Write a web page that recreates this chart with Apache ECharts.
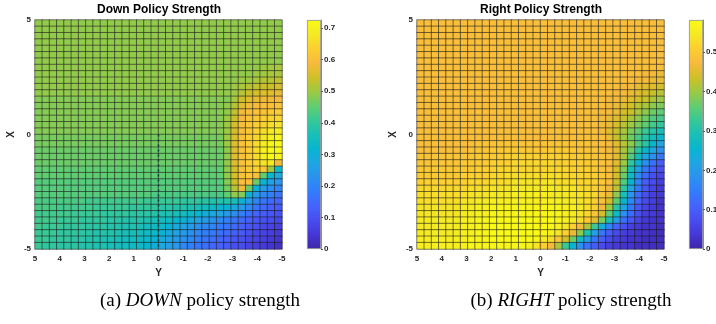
<!DOCTYPE html>
<html>
<head>
<meta charset="utf-8">
<script src="https://cdn.jsdelivr.net/npm/echarts@6/dist/echarts.min.js"></script>
<style>
  html, body { margin: 0; padding: 0; background: #fff; }
  #chart { width: 716px; height: 324px; }
</style>
</head>
<body>
<div id="chart"></div>
<script>
// policy strength in hundredths; first row is X = 5 (top), first column is Y = 5 (left)
const downRows = [
  [49,49,49,49,49,49,49,49,49,49, 49,49,49,49,49,49,49,49,49,49, 49,49,49,49,49,49,49,49,49,49, 49,49,49,49],
  [49,49,49,49,49,49,49,49,49,49, 49,49,49,49,49,49,49,49,49,49, 49,49,49,49,49,49,49,49,49,49, 49,49,49,49],
  [49,49,49,49,49,49,49,49,49,49, 49,49,49,49,49,49,49,49,49,49, 49,49,49,49,49,49,49,49,49,49, 49,49,49,49],
  [49,49,49,49,49,49,49,49,49,49, 49,49,49,49,49,49,49,49,49,49, 49,49,49,49,49,49,49,49,49,49, 49,49,49,49],
  [49,49,49,49,49,49,49,49,49,49, 49,49,49,49,49,49,49,49,49,49, 49,49,49,49,49,49,49,49,49,49, 49,49,49,49],
  [49,49,49,49,49,49,49,49,49,49, 49,49,49,49,49,49,49,49,49,49, 49,49,49,49,49,49,49,49,49,49, 49,49,49,49],
  [49,49,49,49,49,49,49,49,49,49, 49,49,49,49,49,49,49,49,49,49, 49,49,49,49,49,49,49,49,49,49, 49,49,49,49],
  [49,49,49,49,49,49,49,49,49,49, 49,49,49,49,49,49,49,49,49,49, 49,49,49,49,49,49,49,49,49,49, 49,50,50,51],
  [49,49,49,49,49,49,49,49,49,49, 49,49,49,49,49,49,49,49,49,49, 49,49,49,49,49,49,49,49,49,49, 50,50,51,51],
  [49,49,49,49,49,49,49,49,49,49, 49,49,49,49,49,49,49,49,49,49, 49,49,49,49,49,49,49,49,50,50, 51,52,52,53],
  [49,49,49,49,49,49,49,49,49,49, 49,49,49,49,49,49,49,49,49,49, 49,49,49,49,49,49,49,50,51,52, 53,54,54,55],
  [49,49,49,49,49,49,49,49,49,49, 49,49,49,49,49,49,49,49,49,49, 49,49,49,49,49,49,49,50,52,54, 55,56,56,57],
  [48,48,48,48,48,48,48,48,48,48, 48,48,48,48,48,48,48,48,48,48, 48,48,48,48,48,48,48,51,54,56, 57,58,58,59],
  [48,48,48,48,48,48,48,48,48,48, 48,48,48,48,48,48,48,48,48,48, 48,48,48,48,48,48,49,52,56,58, 59,60,60,61],
  [48,48,48,48,48,48,48,48,48,48, 48,48,48,48,48,48,48,48,48,48, 48,48,48,48,48,48,49,53,58,60, 61,61,62,63],
  [48,48,48,48,48,48,48,48,48,48, 48,48,48,48,48,48,48,48,48,48, 48,48,48,48,48,48,50,54,59,61, 62,63,64,65],
  [48,48,48,48,48,48,48,48,48,48, 48,48,48,48,48,48,48,48,48,48, 48,48,48,48,48,48,50,55,60,62, 63,64,66,67],
  [48,48,48,48,48,48,48,48,48,48, 48,48,48,48,48,48,48,48,48,48, 48,48,48,48,48,48,50,55,60,62, 64,66,68,69],
  [47,47,47,47,47,47,47,47,47,47, 47,47,47,47,47,47,47,47,47,47, 47,47,47,47,47,47,50,56,61,63, 65,68,70,71],
  [47,47,47,47,47,47,47,47,47,47, 47,47,47,47,47,47,47,47,47,47, 47,47,47,47,47,47,50,56,61,63, 66,69,71,72],
  [46,46,46,46,46,46,46,46,46,46, 46,46,46,46,46,46,46,46,46,46, 46,46,46,46,46,46,49,56,61,63, 66,70,72,72],
  [46,46,46,46,46,46,46,46,46,46, 46,46,46,46,46,46,46,46,46,46, 46,46,46,46,46,46,49,56,61,63, 66,70,72,71],
  [46,46,46,46,46,46,46,46,46,46, 46,46,46,46,46,46,46,46,46,46, 46,46,46,46,46,46,49,56,61,63, 65,67,68,58],
  [45,45,45,45,45,45,45,45,45,45, 45,45,45,45,45,45,45,45,45,45, 45,45,45,45,45,45,49,55,61,63, 64,62,50,33],
  [45,45,45,45,45,45,45,45,45,45, 45,45,45,45,45,45,45,45,45,45, 45,45,45,45,45,45,49,55,61,62, 60,45,32,28],
  [44,44,44,44,44,44,44,44,44,44, 44,44,44,44,44,44,44,44,44,44, 44,44,44,44,44,44,48,54,60,60, 46,31,26,24],
  [44,44,44,44,44,44,44,44,44,44, 44,44,44,44,44,44,44,44,44,44, 44,44,44,44,44,44,47,52,58,46, 31,25,22,20],
  [44,44,44,44,44,44,44,44,44,44, 44,44,44,44,44,44,43,43,43,43, 43,43,43,43,43,43,45,49,48,31, 25,21,19,17],
  [43,43,43,43,43,43,43,42,42,42, 42,42,42,42,42,41,41,41,41,41, 40,40,40,39,38,38,38,36,31,25, 20,17,15,14],
  [43,43,43,42,42,42,42,42,41,41, 41,41,41,40,40,40,40,39,39,38, 38,37,36,35,34,32,31,28,25,21, 17,15,13,12],
  [42,42,42,42,42,41,41,41,41,40, 40,40,40,39,39,39,38,37,37,36, 35,33,32,30,28,27,25,22,19,16, 14,12,11,10],
  [42,42,42,41,41,41,40,40,40,40, 39,39,38,38,38,37,36,35,34,32, 31,29,27,25,23,21,19,17,15,13, 11,10,9,8],
  [42,41,41,41,40,40,40,39,39,39, 38,38,37,37,36,35,34,33,31,29, 27,25,23,21,20,18,17,15,13,11, 10,8,7,6],
  [41,41,41,40,40,40,39,39,38,38, 38,37,36,36,35,34,33,31,29,27, 25,23,21,19,18,16,15,13,12,10, 8,7,6,5],
  [41,41,40,40,40,39,39,38,38,37, 37,36,35,35,34,33,31,29,27,25, 23,21,19,17,16,14,13,11,10,8, 7,6,5,4],
  [41,40,40,39,39,39,38,38,37,37, 36,35,35,34,33,32,30,28,26,24, 21,19,17,16,14,13,12,10,9,7, 6,5,4,3]
];

const rightRows = [
  [48,48,48,48,48,48,48,48,48,48, 48,48,48,48,48,48,48,48,48,48, 48,48,48,48,48,48,48,48,48,48, 48,48,48,48],
  [48,48,48,48,48,48,48,48,48,48, 48,48,48,48,48,48,48,48,48,48, 48,48,48,48,48,48,48,48,48,48, 48,48,48,48],
  [48,48,48,48,48,48,48,48,48,48, 48,48,48,48,48,48,48,48,48,48, 48,48,48,48,48,48,48,48,48,48, 48,48,48,48],
  [48,48,48,48,48,48,48,48,48,48, 48,48,48,48,48,48,48,48,48,48, 48,48,48,48,48,48,48,48,48,48, 48,48,48,48],
  [48,48,48,48,48,48,48,48,48,48, 48,48,48,48,48,48,48,48,48,48, 48,48,48,48,48,48,48,48,48,48, 48,48,48,48],
  [48,48,48,48,48,48,48,48,48,48, 48,48,48,48,48,48,48,48,48,48, 48,48,48,48,48,48,48,48,48,48, 48,48,48,48],
  [48,48,48,48,48,48,48,48,48,48, 48,48,48,48,48,48,48,48,48,48, 48,48,48,48,48,48,48,48,48,48, 48,48,48,48],
  [48,48,48,48,48,48,48,48,48,48, 48,48,48,48,48,48,48,48,48,48, 48,48,48,48,48,48,48,48,48,48, 48,48,48,48],
  [48,48,48,48,48,48,48,48,48,48, 48,48,48,48,48,48,48,48,48,48, 48,48,48,48,48,48,48,48,48,48, 48,47,47,46],
  [48,48,48,48,48,48,48,48,48,48, 48,48,48,48,48,48,48,48,48,48, 48,48,48,48,48,48,48,48,48,48, 47,47,46,46],
  [48,48,48,48,48,48,48,48,48,48, 48,48,48,48,48,48,48,48,48,48, 48,48,48,48,48,48,48,48,47,47, 46,45,45,44],
  [48,48,48,48,48,48,48,48,48,48, 48,48,48,48,48,48,48,48,48,48, 48,48,48,48,48,48,48,47,47,46, 45,44,43,42],
  [48,48,48,48,48,48,48,48,48,48, 48,48,48,48,48,48,48,48,48,48, 48,48,48,48,48,48,47,47,46,45, 44,43,41,40],
  [48,48,48,48,48,48,48,48,48,48, 48,48,48,48,48,48,48,48,48,48, 48,48,48,48,48,48,47,46,45,44, 42,41,39,38],
  [48,48,48,48,48,48,48,48,48,48, 48,48,48,48,48,48,48,48,48,48, 48,48,48,48,48,47,47,46,44,43, 41,39,37,36],
  [48,48,48,48,48,48,48,48,48,48, 48,48,48,48,48,48,48,48,48,48, 48,48,48,48,48,47,46,45,43,41, 39,37,35,34],
  [48,48,48,48,48,48,48,48,48,48, 48,48,48,48,48,48,48,48,48,48, 48,48,48,48,48,47,46,44,42,40, 38,36,34,32],
  [48,48,48,48,48,48,48,48,48,48, 48,48,48,48,48,48,48,48,48,48, 48,48,48,48,48,47,45,43,41,38, 36,33,31,29],
  [48,48,48,48,48,48,48,48,48,48, 48,48,48,48,48,48,48,48,48,48, 48,48,48,48,48,48,46,43,40,37, 34,31,28,26],
  [48,48,48,48,48,48,48,48,49,49, 49,49,49,49,49,49,49,49,49,49, 49,49,49,49,48,48,47,45,42,39, 35,31,26,22],
  [48,48,48,48,48,48,48,49,49,49, 50,50,50,50,50,50,50,50,50,50, 50,50,49,49,49,48,47,45,41,37, 31,26,22,18],
  [49,49,49,49,49,49,49,49,50,50, 50,50,51,51,51,51,51,51,51,51, 51,50,50,50,49,49,48,45,41,35, 28,22,18,14],
  [49,49,49,49,49,49,50,50,50,50, 51,51,51,52,52,52,52,52,52,51, 51,51,51,50,50,49,48,45,40,32, 25,18,13,10],
  [50,50,50,50,50,50,50,50,51,51, 51,52,52,52,52,52,52,52,52,52, 52,51,51,51,50,49,48,44,38,29, 21,14,10,8],
  [50,50,50,50,50,50,51,51,51,51, 52,52,53,53,53,53,53,53,53,53, 52,52,52,51,51,50,48,44,37,27, 18,12,8,6],
  [51,51,51,51,51,51,51,52,52,52, 53,53,53,54,54,54,54,54,54,53, 53,53,52,52,51,50,48,43,35,25, 16,10,7,5],
  [52,52,52,52,52,52,52,53,53,53, 54,54,54,55,55,55,55,55,55,54, 54,54,53,52,51,50,47,42,32,22, 14,9,6,4],
  [53,53,53,53,53,53,53,54,54,54, 55,55,55,56,56,56,56,56,55,55, 55,54,54,53,52,49,46,39,29,19, 12,8,5,4],
  [53,53,53,53,53,53,54,54,55,55, 56,56,56,56,56,56,56,56,56,56, 55,55,54,53,51,48,44,36,26,17, 11,7,5,3],
  [54,54,54,54,54,54,55,55,56,56, 57,57,57,57,57,57,57,57,57,57, 56,56,55,53,51,47,40,31,22,14, 9,6,4,3],
  [54,54,54,54,54,54,55,55,56,56, 57,57,57,57,57,57,57,57,57,57, 56,55,54,52,49,44,36,27,18,12, 8,5,4,3],
  [55,55,55,55,55,55,56,56,57,57, 58,58,58,58,58,58,58,58,58,57, 56,55,53,50,45,38,29,20,13,9, 6,4,3,3],
  [55,55,55,55,55,55,56,56,57,57, 58,58,58,58,58,58,58,58,57,56, 54,51,47,41,33,24,16,11,8,5, 4,3,3,2],
  [55,55,55,55,55,55,56,56,57,57, 58,58,58,58,58,58,58,57,56,54, 51,46,39,30,21,14,10,7,5,4, 3,3,2,2],
  [56,56,56,56,56,56,56,57,57,57, 58,58,58,58,58,58,57,55,53,49, 44,37,28,20,14,10,7,5,4,3, 3,2,2,2],
  [56,56,56,56,56,56,56,57,57,57, 57,57,57,57,57,56,54,51,47,41, 33,25,18,13,10,7,5,4,3,3, 2,2,2,2]
];

const downMax = 0.726;
const rightMax = 0.582;
const captionA = ['(a) ', 'DOWN', ' policy strength'];
const captionB = ['(b) ', 'RIGHT', ' policy strength'];
// dotted trace along Y = 0, from X = 0 down to X = -5
const trace = [[0, 0], [0, -5]];

// MATLAB parula, sampled
const parula = ['#3E26A8', '#4537D5', '#484DF0', '#4563FD', '#327CFC', '#2B91EF', '#20A5E3', '#08B5D0',
  '#19BFB6', '#37C897', '#64CD6F', '#9DC943', '#D1BF27', '#F8BA3D', '#FCCF30', '#F5E924', '#F9FB15'];

function cells(rows) {
  const out = [];
  rows.forEach((row, r) => row.forEach((v, c) => out.push([c, r, v / 100])));
  return out;
}

const chart = echarts.init(document.getElementById('chart'), null, { renderer: 'canvas' });

const sans = '"Liberation Sans", Arial, sans-serif';
const serif = '"Liberation Serif", "Times New Roman", serif';
const tickStyle = { fontFamily: sans, fontWeight: 'bold', fontSize: 8, color: '#262626' };
const nameStyle = { fontFamily: sans, fontWeight: 'bold', fontSize: 10, color: '#262626' };

const panels = [
  { left: 35, bar: 307, rows: downRows, max: downMax, title: 'Down Policy Strength', cap: captionA, capX: 200, dash: 'rgba(10,60,60,0.9)' },
  { left: 417, bar: 689, rows: rightRows, max: rightMax, title: 'Right Policy Strength', cap: captionB, capX: 571, dash: 'rgba(180,110,20,0.9)' }
];

const grid = [], xAxis = [], yAxis = [], series = [], visualMap = [], graphic = [];

panels.forEach((p) => {
  const g = grid.length;
  grid.push({ left: p.left, top: 20, width: 247, height: 229, outerBoundsMode: 'none', containLabel: false });
  grid.push({ left: p.bar, top: 20, width: 14, height: 229, outerBoundsMode: 'none', containLabel: false });
  const a = xAxis.length;

  xAxis.push({ type: 'category', gridIndex: g, position: 'top', data: p.rows[0].map((_, c) => c), show: false });
  xAxis.push({
    type: 'value', gridIndex: g, position: 'bottom', min: -5, max: 5, interval: 1, inverse: true,
    axisLine: { show: false }, axisTick: { show: false }, splitLine: { show: false },
    axisLabel: Object.assign({ margin: 6 }, tickStyle),
    name: 'Y', nameLocation: 'middle', nameGap: 18, nameTextStyle: nameStyle
  });
  xAxis.push({ type: 'category', gridIndex: g + 1, data: ['c'], show: false });

  yAxis.push({ type: 'category', gridIndex: g, position: 'right', data: p.rows.map((_, r) => r), inverse: true, show: false });
  yAxis.push({
    type: 'value', gridIndex: g, position: 'left', min: -5, max: 5, interval: 5,
    axisLine: { show: false }, axisTick: { show: false }, splitLine: { show: false },
    axisLabel: Object.assign({ margin: 4 }, tickStyle),
    name: 'X', nameLocation: 'middle', nameGap: 19, nameRotate: 90, nameTextStyle: nameStyle
  });
  yAxis.push({
    type: 'value', gridIndex: g + 1, min: 0, max: p.max, interval: 0.1, position: 'right',
    axisLine: { show: true, lineStyle: { color: '#8c8c8c', width: 1 } },
    axisTick: { show: true, length: 2, lineStyle: { color: '#555' } },
    splitLine: { show: false },
    axisLabel: Object.assign({ margin: 3, showMaxLabel: false, formatter: v => (v === 0 ? '0' : v.toFixed(1)) }, tickStyle)
  });

  const s = series.length;
  series.push({
    type: 'heatmap', xAxisIndex: a, yAxisIndex: a, data: cells(p.rows),
    progressive: 0, silent: true,
    itemStyle: { borderColor: 'rgba(25,25,25,0.55)', borderWidth: 1 },
    emphasis: { disabled: true }
  });
  series.push({
    type: 'line', xAxisIndex: a + 1, yAxisIndex: a + 1, data: trace,
    symbol: 'none', silent: true, z: 5,
    lineStyle: { color: p.dash, width: 1.5, type: [2, 3] }
  });
  series.push({
    type: 'bar', xAxisIndex: a + 2, yAxisIndex: a + 2, data: [p.max], barWidth: '100%', silent: true,
    itemStyle: {
      borderColor: '#8c8c8c', borderWidth: 0.8,
      color: new echarts.graphic.LinearGradient(0, 1, 0, 0,
        parula.map((col, k) => ({ offset: k / (parula.length - 1), color: col })))
    }
  });
  visualMap.push({
    show: false, seriesIndex: s, dimension: 2, min: 0, max: p.max,
    inRange: { color: parula }
  });

  graphic.push({
    type: 'text', x: p.left + 124, y: 4, silent: true,
    style: { text: p.title, font: 'bold 12px ' + sans, fill: '#000', align: 'center', textAlign: 'center', verticalAlign: 'top' }
  });
  graphic.push({
    type: 'text', x: p.capX, y: 301, silent: true,
    style: {
      text: '{n|' + p.cap[0] + '}{i|' + p.cap[1] + '}{n|' + p.cap[2] + '}',
      align: 'center', textAlign: 'center', verticalAlign: 'middle', fill: '#000',
      rich: {
        n: { fontFamily: serif, fontSize: 19, fill: '#000', color: '#000' },
        i: { fontFamily: serif, fontSize: 19, fontStyle: 'italic', fill: '#000', color: '#000' }
      }
    }
  });
});

chart.setOption({
  animation: false,
  backgroundColor: '#fff',
  grid, xAxis, yAxis, series, visualMap, graphic
});
</script>
</body>
</html>
